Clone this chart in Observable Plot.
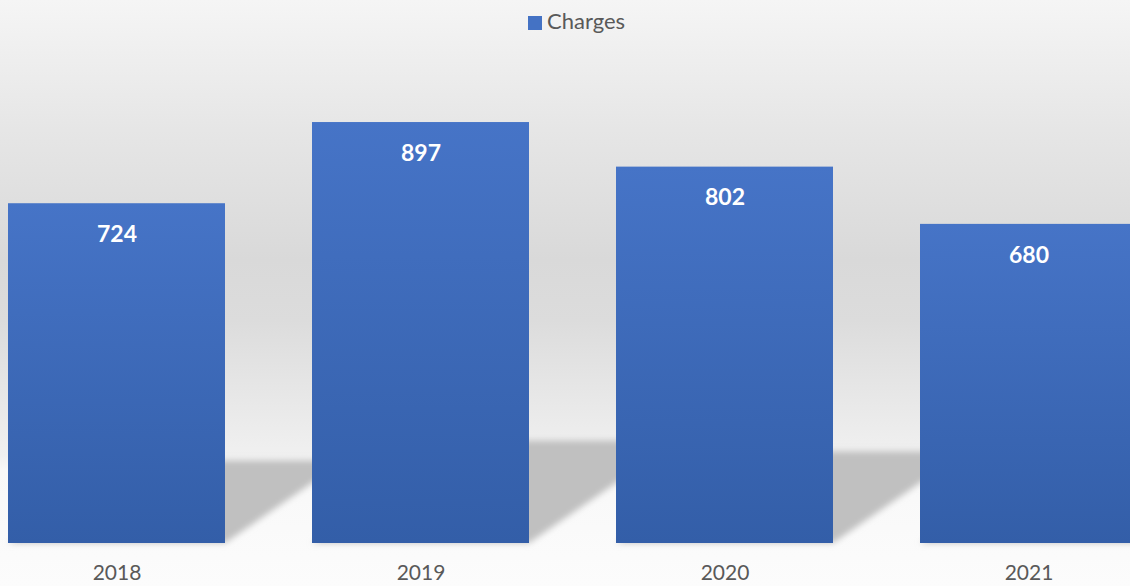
<!DOCTYPE html>
<html>
<head>
<meta charset="utf-8">
<script src="https://cdn.jsdelivr.net/npm/d3@7"></script>
<script src="https://cdn.jsdelivr.net/npm/@observablehq/plot@0.6"></script>
<style>
  html, body { margin: 0; padding: 0; overflow: hidden; }
  #wrap {
    position: relative; width: 1130px; height: 586px; overflow: hidden;
    background: linear-gradient(to bottom, #f5f5f5 0px, #e6e6e6 130px, #d9d9d9 260px, #dcdcdc 320px, #f0f0f0 455px, #f8f8f8 470px, #fcfcfc 586px);
    font-family: Lato, "Open Sans", sans-serif;
  }
  #legend {
    position: absolute; top: 9px; left: 528px; white-space: nowrap;
    font-size: 22px; color: #595959; line-height: 24px;
  }
  #legend .sw { display: inline-block; width: 14px; height: 14px; background: #4472C4; margin-right: 5px; vertical-align: -1px; }
  #chart svg { position: absolute; top: 0; left: 0; background: transparent; overflow: hidden; }
</style>
</head>
<body>
<div id="wrap">
  <div id="chart"></div>
  <div id="legend"></div>
</div>
<script>
const years = ["2018", "2019", "2020", "2021"];
const charges = [724, 897, 802, 680];
const seriesName = "Charges";

const data = years.map((yr, i) => ({year: yr, value: charges[i]}));

document.getElementById("legend").innerHTML =
  `<span class="sw"></span><span>${seriesName}</span>`;

function shadowRender(index, scales, values, dimensions, context, next) {
  const g = next(index, scales, values, dimensions, context);
  const y0 = scales.y ? scales.y(0) : 543;
  const k = 0.352, s = 0.243;
  const ns = "http://www.w3.org/2000/svg";
  const outer = document.createElementNS(ns, "g");
  const defs = document.createElementNS(ns, "defs");
  defs.innerHTML = `<filter id="shBlur" x="-20%" y="-20%" width="140%" height="140%"><feGaussianBlur stdDeviation="3"/></filter>`;
  outer.appendChild(defs);
  outer.setAttribute("filter", "url(#shBlur)");
  const inner = document.createElementNS(ns, "g");
  inner.setAttribute("transform", `matrix(1,0,${-k},${s},${k * y0},${(1 - s) * y0})`);
  inner.appendChild(g);
  outer.appendChild(inner);
  return outer;
}

const plot = Plot.plot({
  width: 1130,
  height: 586,
  marginTop: 0, marginBottom: 43, marginLeft: 0, marginRight: 0,
  style: {background: "transparent", fontFamily: "Lato, 'Open Sans', sans-serif", overflow: "hidden"},
  x: {type: "band", domain: years, range: [-79, 1224], padding: 0.2862, round: false},
  y: {domain: [0, 1000], range: [543, 73.7], axis: null},
  marks: [
    () => {
      const ns = "http://www.w3.org/2000/svg";
      const defs = document.createElementNS(ns, "defs");
      defs.innerHTML = `<linearGradient id="barGrad" x1="0" y1="0" x2="0" y2="1">
          <stop offset="0%" stop-color="#4674c7"/>
          <stop offset="100%" stop-color="#335ea8"/>
        </linearGradient>`;
      return defs;
    },
    Plot.barY(data, {x: "year", y: "value", fill: "#c0c0c0", render: shadowRender}),
    Plot.barY(data, {x: "year", y: "value", fill: "url(#barGrad)"}),
    Plot.text(data, {x: "year", y: "value", text: d => String(d.value), dy: 31,
      fill: "white", fontWeight: "bold", fontSize: 23}),
    Plot.axisX({tickSize: 0, tickPadding: 22, fontSize: 21, color: "#595959", label: null})
  ]
});
document.getElementById("chart").appendChild(plot);
</script>
</body>
</html>
